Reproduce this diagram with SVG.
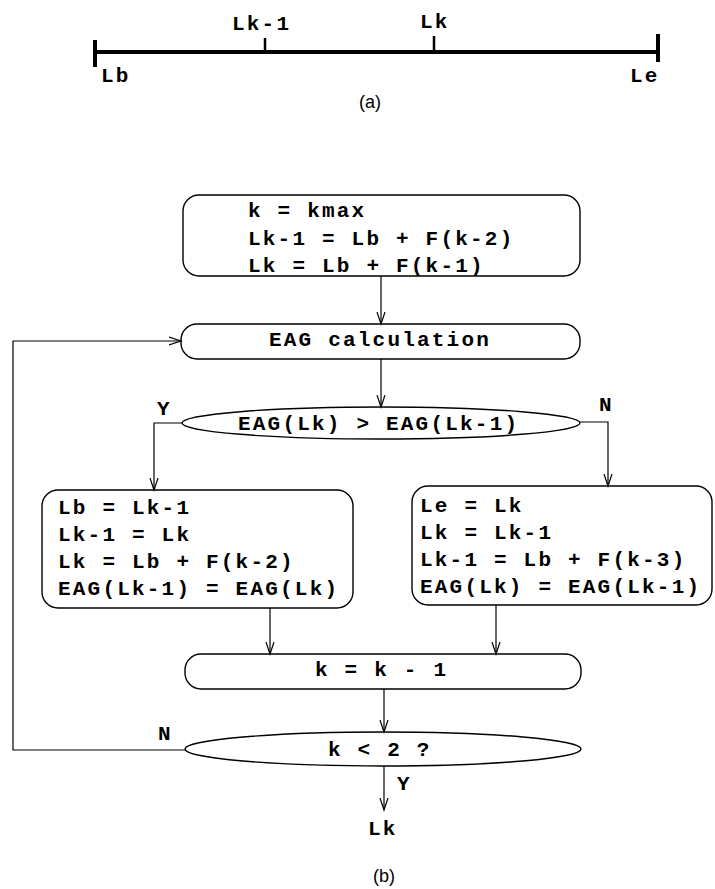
<svg xmlns="http://www.w3.org/2000/svg" width="715" height="889" viewBox="0 0 715 889">
<defs>
<marker id="arr" markerWidth="14" markerHeight="10" refX="12" refY="5" orient="auto" markerUnits="userSpaceOnUse">
<path d="M0,1 L12,5 L0,9" fill="none" stroke="#000" stroke-width="1.2"/>
</marker>
</defs>
<style>
.t{font-family:"Liberation Mono","Courier New",monospace;font-weight:bold;font-size:21px;letter-spacing:2.2px;fill:#000}
.cap{font-family:"Liberation Sans",Arial,sans-serif;font-size:18px;fill:#000}
.box{fill:none;stroke:#000;stroke-width:1.4}
.c{fill:none;stroke:#000;stroke-width:1.2}
.bar{fill:none;stroke:#000;stroke-width:4}
</style>
<rect width="715" height="889" fill="#fff"/>

<g id="partA">
<line class="bar" x1="95" y1="52" x2="658" y2="52"/>
<line class="bar" x1="95" y1="40" x2="95" y2="67"/>
<line class="bar" x1="658" y1="34" x2="658" y2="62"/>
<line x1="265" y1="38" x2="265" y2="52" stroke="#000" stroke-width="2.5"/>
<line x1="434" y1="36" x2="434" y2="52" stroke="#000" stroke-width="2.5"/>
<text class="t" x="232" y="30">Lk-1</text>
<text class="t" x="420" y="28">Lk</text>
<text class="t" x="101" y="82">Lb</text>
<text class="t" x="630" y="82">Le</text>
<text class="cap" x="370" y="108" text-anchor="middle">(a)</text>
</g>

<g id="connectors">
<path class="c" d="M381,276 V324" marker-end="url(#arr)"/>
<path class="c" d="M381,359 V407" marker-end="url(#arr)"/>
<path class="c" d="M182,423 H154 V490" marker-end="url(#arr)"/>
<path class="c" d="M580,422 H608 V486" marker-end="url(#arr)"/>
<path class="c" d="M270,608 V654" marker-end="url(#arr)"/>
<path class="c" d="M496,605 V654" marker-end="url(#arr)"/>
<path class="c" d="M384,689 V732" marker-end="url(#arr)"/>
<path class="c" d="M185,750 H13 V341 H181" marker-end="url(#arr)"/>
<path class="c" d="M384,766 V810" marker-end="url(#arr)"/>
<text class="t" x="157" y="415">Y</text>
<text class="t" x="599" y="411">N</text>
<text class="t" x="158" y="740">N</text>
<text class="t" x="397" y="790">Y</text>
</g>

<g id="init">
<rect class="box" x="183" y="195" width="397" height="81" rx="16"/>
<text class="t" x="248" y="217">k = kmax</text>
<text class="t" x="248" y="245">Lk-1 = Lb + F(k-2)</text>
<text class="t" x="248" y="272">Lk = Lb + F(k-1)</text>
</g>

<g id="eag">
<rect class="box" x="181" y="324" width="399" height="35" rx="16"/>
<text class="t" x="269" y="346">EAG calculation</text>
</g>

<g id="compare">
<ellipse class="box" cx="381" cy="423" rx="199" ry="16"/>
<text class="t" x="238" y="430">EAG(Lk) &gt; EAG(Lk-1)</text>
</g>

<g id="yesBox">
<rect class="box" x="42" y="490" width="311" height="118" rx="16"/>
<text class="t" x="58" y="514">Lb = Lk-1</text>
<text class="t" x="58" y="541">Lk-1 = Lk</text>
<text class="t" x="58" y="568">Lk = Lb + F(k-2)</text>
<text class="t" x="58" y="595">EAG(Lk-1) = EAG(Lk)</text>
</g>

<g id="noBox">
<rect class="box" x="412" y="486" width="300" height="119" rx="16"/>
<text class="t" x="420" y="512">Le = Lk</text>
<text class="t" x="420" y="539">Lk = Lk-1</text>
<text class="t" x="420" y="566">Lk-1 = Lb + F(k-3)</text>
<text class="t" x="420" y="593">EAG(Lk) = EAG(Lk-1)</text>
</g>

<g id="decrement">
<rect class="box" x="185" y="654" width="396" height="35" rx="16"/>
<text class="t" x="315" y="676">k = k - 1</text>
</g>

<g id="stop">
<ellipse class="box" cx="383" cy="749" rx="198" ry="17"/>
<text class="t" x="328" y="756">k &lt; 2 ?</text>
</g>

<g id="output">
<text class="t" x="368" y="835">Lk</text>
</g>

<text class="cap" x="384" y="882" text-anchor="middle">(b)</text>
</svg>
